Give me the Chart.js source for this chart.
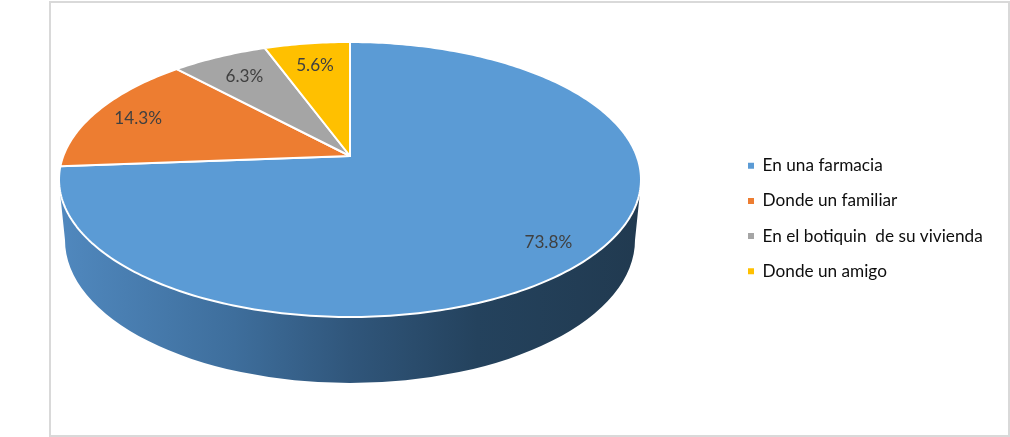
<!DOCTYPE html>
<html>
<head>
<meta charset="utf-8">
<style>html,body{margin:0;padding:0;background:#fff}canvas{display:block}</style>
<script src="https://cdn.jsdelivr.net/npm/chart.js@4"></script>
</head>
<body>
<canvas id="c" width="1010" height="437"></canvas>
<script>
const categories = ['En una farmacia', 'Donde un familiar', 'En el botiquin  de su vivienda', 'Donde un amigo'];
const shares = [73.8, 14.3, 6.3, 5.6];
const colors = ['#5B9BD5', '#ED7D31', '#A5A5A5', '#FFC000'];

const FONT = 'Lato';
const TEXT_SIZE = 17.2;
const PIE = {cx: 350, cy: 156, radius: 286.7, squash: 0.4656, tilt: 0.171, labelAt: [0.85, 0.835, 0.785, 0.79]};
const WALL = {cx: 350, cy: 240, rx: 285, ry: 143};

function project(angle, f, r) {
  const u = Math.cos(angle) * f, w = Math.sin(angle) * f, d = 1 - PIE.tilt * w;
  return [PIE.cx + r * u / d, PIE.cy + r * PIE.squash * w / d];
}

const tiltedPie = {
  id: 'tiltedPie',
  beforeDraw(chart) {
    const g = chart.ctx;
    g.save();
    g.strokeStyle = '#D9D9D9';
    g.lineWidth = 2;
    g.strokeRect(50, 2, 959, 434);
    g.restore();
  },
  afterLayout(chart) {
    const lg = chart.legend, w = lg.width;
    lg.left = 730;
    lg.right = lg.left + w;
  },
  beforeDatasetDraw(chart, args) {
    const g = chart.ctx, arcs = args.meta.data;
    const r = arcs[0].outerRadius;
    // side wall
    g.save();
    const grad = g.createLinearGradient(60, 0, 640, 0);
    grad.addColorStop(0, '#5088BE');
    grad.addColorStop(0.3, '#3E6E9C');
    grad.addColorStop(0.5, '#30567B');
    grad.addColorStop(0.72, '#24425D');
    grad.addColorStop(1, '#213A50');
    g.fillStyle = grad;
    g.beginPath();
    g.moveTo(60, 192);
    g.lineTo(WALL.cx - WALL.rx, WALL.cy);
    g.ellipse(WALL.cx, WALL.cy, WALL.rx, WALL.ry, 0, Math.PI, 0, true);
    g.lineTo(640, 192);
    g.closePath();
    g.fill();
    g.restore();
    // top face
    arcs.forEach((arc, i) => {
      g.save();
      g.beginPath();
      g.moveTo(PIE.cx, PIE.cy);
      const n = Math.max(8, Math.ceil((arc.endAngle - arc.startAngle) * 60));
      for (let s = 0; s <= n; s++) {
        const a = arc.startAngle + (arc.endAngle - arc.startAngle) * s / n;
        const p = project(a, 1, r);
        g.lineTo(p[0], p[1]);
      }
      g.closePath();
      g.fillStyle = colors[i];
      g.fill();
      g.strokeStyle = '#FFFFFF';
      g.lineWidth = 2;
      g.lineJoin = 'round';
      g.stroke();
      g.restore();
    });
    return false;
  },
  afterDatasetsDraw(chart) {
    const g = chart.ctx, arcs = chart.getDatasetMeta(0).data;
    g.save();
    g.font = TEXT_SIZE + 'px ' + FONT;
    g.fillStyle = '#404040';
    g.textAlign = 'center';
    g.textBaseline = 'middle';
    arcs.forEach((arc, i) => {
      const p = project((arc.startAngle + arc.endAngle) / 2, PIE.labelAt[i], arc.outerRadius);
      g.fillText(shares[i].toFixed(1) + '%', p[0], p[1] + 1);
    });
    g.restore();
  }
};

new Chart(document.getElementById('c'), {
  type: 'pie',
  data: {
    labels: categories,
    datasets: [{data: shares, backgroundColor: colors, borderColor: '#FFFFFF', borderWidth: 0, radius: PIE.radius}]
  },
  options: {
    responsive: false,
    animation: false,
    events: [],
    plugins: {
      tooltip: {enabled: false},
      legend: {
        position: 'right',
        labels: {
          boxWidth: 6,
          boxHeight: 6,
          padding: 18,
          color: '#0D0D0D',
          font: {family: FONT, size: TEXT_SIZE, lineHeight: 1.2}
        }
      }
    }
  },
  plugins: [tiltedPie]
});
</script>
</body>
</html>
